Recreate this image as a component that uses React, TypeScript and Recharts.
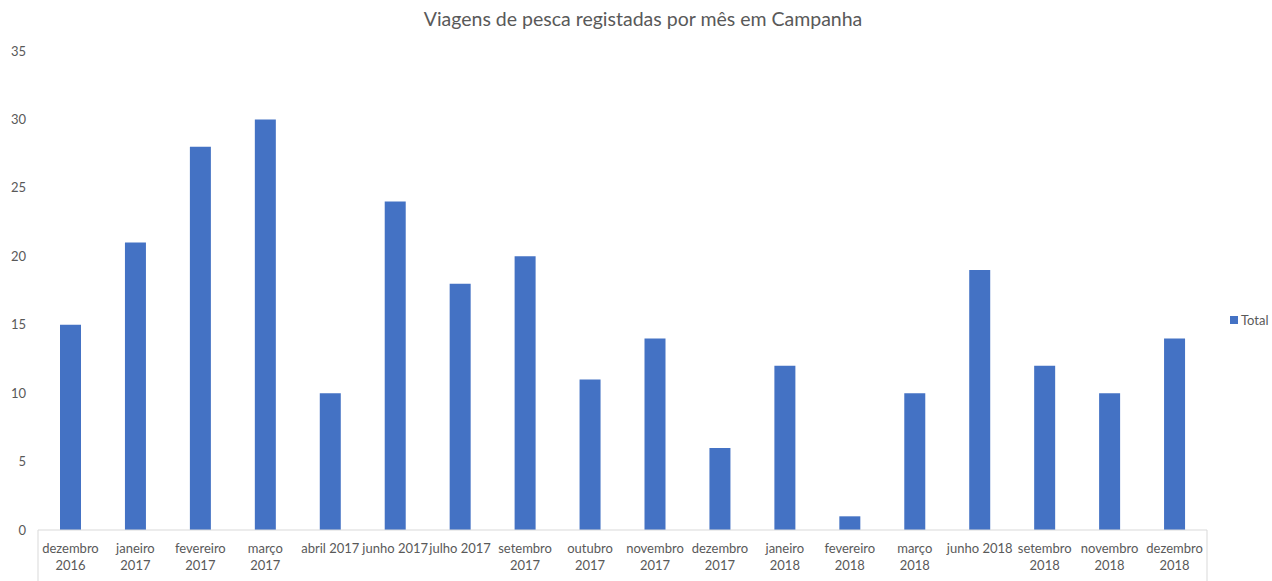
import React from 'react';
import { BarChart, Bar, XAxis, YAxis } from 'recharts';

const categories = [
    'dezembro 2016', 'janeiro 2017', 'fevereiro 2017', 'março 2017', 'abril 2017', 'junho 2017',
    'julho 2017', 'setembro 2017', 'outubro 2017', 'novembro 2017', 'dezembro 2017', 'janeiro 2018',
    'fevereiro 2018', 'março 2018', 'junho 2018', 'setembro 2018', 'novembro 2018', 'dezembro 2018',
];
const totals = [15, 21, 28, 30, 10, 24, 18, 20, 11, 14, 6, 12, 1, 10, 19, 12, 10, 14];
const yTicks = [0, 5, 10, 15, 20, 25, 30, 35];
// labels Excel kept on a single line
const singleLine = ['abril 2017', 'junho 2017', 'julho 2017', 'junho 2018'];

const data = categories.map((month, i) => ({ month, Total: totals[i] }));

const textColor = '#595959';
const axisColor = '#d9d9d9';
const font = 'Lato, "Noto Sans", sans-serif';

const MonthTick = (props: any) => {
    const { x, y, payload, index } = props;
    const label: string = payload.value;
    const lines = singleLine.includes(label) ? [label] : label.split(' ');
    const half = payload.offset ?? 32.5;
    const last = index === categories.length - 1;
    return (
        <g>
            {index === 0 && <line x1={x - half} y1={y - 8} x2={x - half} y2={y + 51} stroke={axisColor} />}
            {last && <line x1={x + half} y1={y - 8} x2={x + half} y2={y + 51} stroke={axisColor} />}
            <text x={x} y={y} textAnchor="middle" fill={textColor} fontSize={13} fontFamily={font}>
                {lines.map((l, i) => (
                    <tspan key={i} x={x} dy={i === 0 ? 15 : 17}>{l}</tspan>
                ))}
            </text>
        </g>
    );
};

export default function App() {
    return (
        <div style={{ position: 'fixed', left: 0, top: 0, width: 1272, height: 581, background: '#fff' }}>
            <div style={{ position: 'absolute', top: 7, width: '100%', textAlign: 'center', fontFamily: font, fontSize: 19.5, color: textColor, paddingLeft: 14, boxSizing: 'border-box' }}>
                Viagens de pesca registadas por mês em Campanha
            </div>
            <div style={{ position: 'absolute', left: 1230, top: 312, display: 'flex', alignItems: 'center', fontFamily: font, fontSize: 13, color: textColor }}>
                <span style={{ display: 'inline-block', width: 8, height: 8, background: '#4472C4', marginRight: 3 }} />
                Total
            </div>
            <BarChart width={1272} height={581} data={data} margin={{ top: 51, right: 65, bottom: 0, left: 0 }}>
                <XAxis
                    dataKey="month"
                    interval={0}
                    height={51}
                    tickLine={false}
                    axisLine={{ stroke: axisColor }}
                    tick={<MonthTick />}
                />
                <YAxis
                    width={38}
                    domain={[0, 35]}
                    ticks={yTicks}
                    axisLine={false}
                    tickLine={false}
                    tick={{ fill: textColor, fontSize: 13, fontFamily: font, textAnchor: 'end', dx: -4 }}
                />
                <Bar dataKey="Total" fill="#4472C4" barSize={21} isAnimationActive={false} />
            </BarChart>
        </div>
    );
}
